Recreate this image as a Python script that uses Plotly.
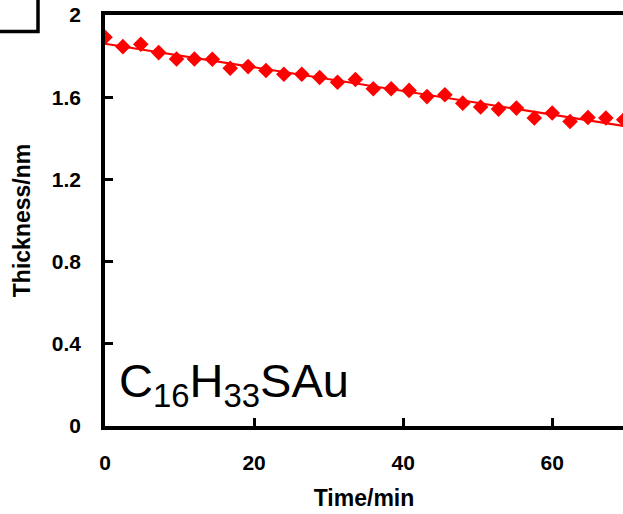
import numpy as np
import plotly.graph_objects as go

# Data
time_min = [0.0, 2.4, 4.8, 7.2, 9.6, 12.0, 14.4, 16.8, 19.2, 21.6,
            24.0, 26.4, 28.8, 31.2, 33.6, 36.0, 38.4, 40.8, 43.2, 45.6,
            48.0, 50.4, 52.8, 55.2, 57.6, 60.0, 62.4, 64.8, 67.2, 69.6]
thickness_nm = [1.892, 1.846, 1.858, 1.817, 1.786, 1.786, 1.785, 1.741, 1.749, 1.730,
                1.712, 1.712, 1.696, 1.673, 1.686, 1.641, 1.641, 1.633, 1.603, 1.612,
                1.571, 1.552, 1.542, 1.547, 1.499, 1.523, 1.482, 1.501, 1.499, 1.490]
x_ticks = [0, 20, 40, 60]
y_ticks = [0, 0.4, 0.8, 1.2, 1.6, 2.0]
y_tick_text = ["0", "0.4", "0.8", "1.2", "1.6", "2"]
label_text = "C<sub>16</sub>H<sub>33</sub>SAu"

# Linear fit line
slope, intercept = np.polyfit(time_min, thickness_nm, 1)
fit_x = [0.0, 75.0]
fit_y = [intercept + slope * v for v in fit_x]

W, H = 623, 514
L, R, T, B = 105, 0, 15, 88

fig = go.Figure()
fig.add_trace(go.Scatter(x=fit_x, y=fit_y, mode="lines",
                         line=dict(color="#ff0000", width=2), showlegend=False))
fig.add_trace(go.Scatter(x=time_min, y=thickness_nm, mode="markers",
                         marker=dict(symbol="diamond", size=12, color="#ff0000",
                                     line=dict(width=0)),
                         showlegend=False))

font_title = dict(family="Liberation Sans, Arial", size=23, color="black")
font_tick = dict(family="Liberation Sans, Arial", size=21, color="black", weight="bold")

fig.update_layout(
    width=W, height=H,
    margin=dict(l=L, r=R, t=T, b=B, pad=0),
    paper_bgcolor="white", plot_bgcolor="white",
    font=dict(family="Liberation Sans, Arial", color="black"),
    xaxis=dict(range=[0, 69.5], tickvals=x_ticks, ticks="inside", ticklen=8,
               tickwidth=3, tickcolor="black", showline=True, linewidth=3.5,
               linecolor="black", mirror=True, showgrid=False, zeroline=False,
               tickfont=font_tick, ticklabelstandoff=15,
               title=dict(text="<b>Time/min</b>", font=font_title, standoff=18)),
    yaxis=dict(range=[0, 2], tickvals=y_ticks, ticktext=y_tick_text, ticks="inside",
               ticklen=8, tickwidth=3, tickcolor="black", showline=True, linewidth=3.5,
               linecolor="black", showgrid=False, zeroline=False,
               tickfont=font_tick, ticklabelstandoff=16,
               title=dict(text="<b>Thickness/nm</b>", font=font_title, standoff=16)),
)

pw = W - L - R
ph = H - T - B
def px(xp):
    return (xp - L) / pw
def py(yp):
    return (H - B - yp) / ph

# partial box at top-left (cropped legend frame)
fig.add_shape(type="path", xref="paper", yref="paper",
              path=f"M {px(-2)} {py(31.5)} L {px(38)} {py(31.5)} L {px(38)} {py(-2)}",
              line=dict(color="black", width=3.5))

fig.add_annotation(xref="paper", yref="paper", x=px(117), y=py(416),
                   xanchor="left", yanchor="bottom", showarrow=False,
                   text=label_text,
                   font=dict(family="Liberation Sans, Arial", size=47, color="black"))

fig.write_html("out.html")
